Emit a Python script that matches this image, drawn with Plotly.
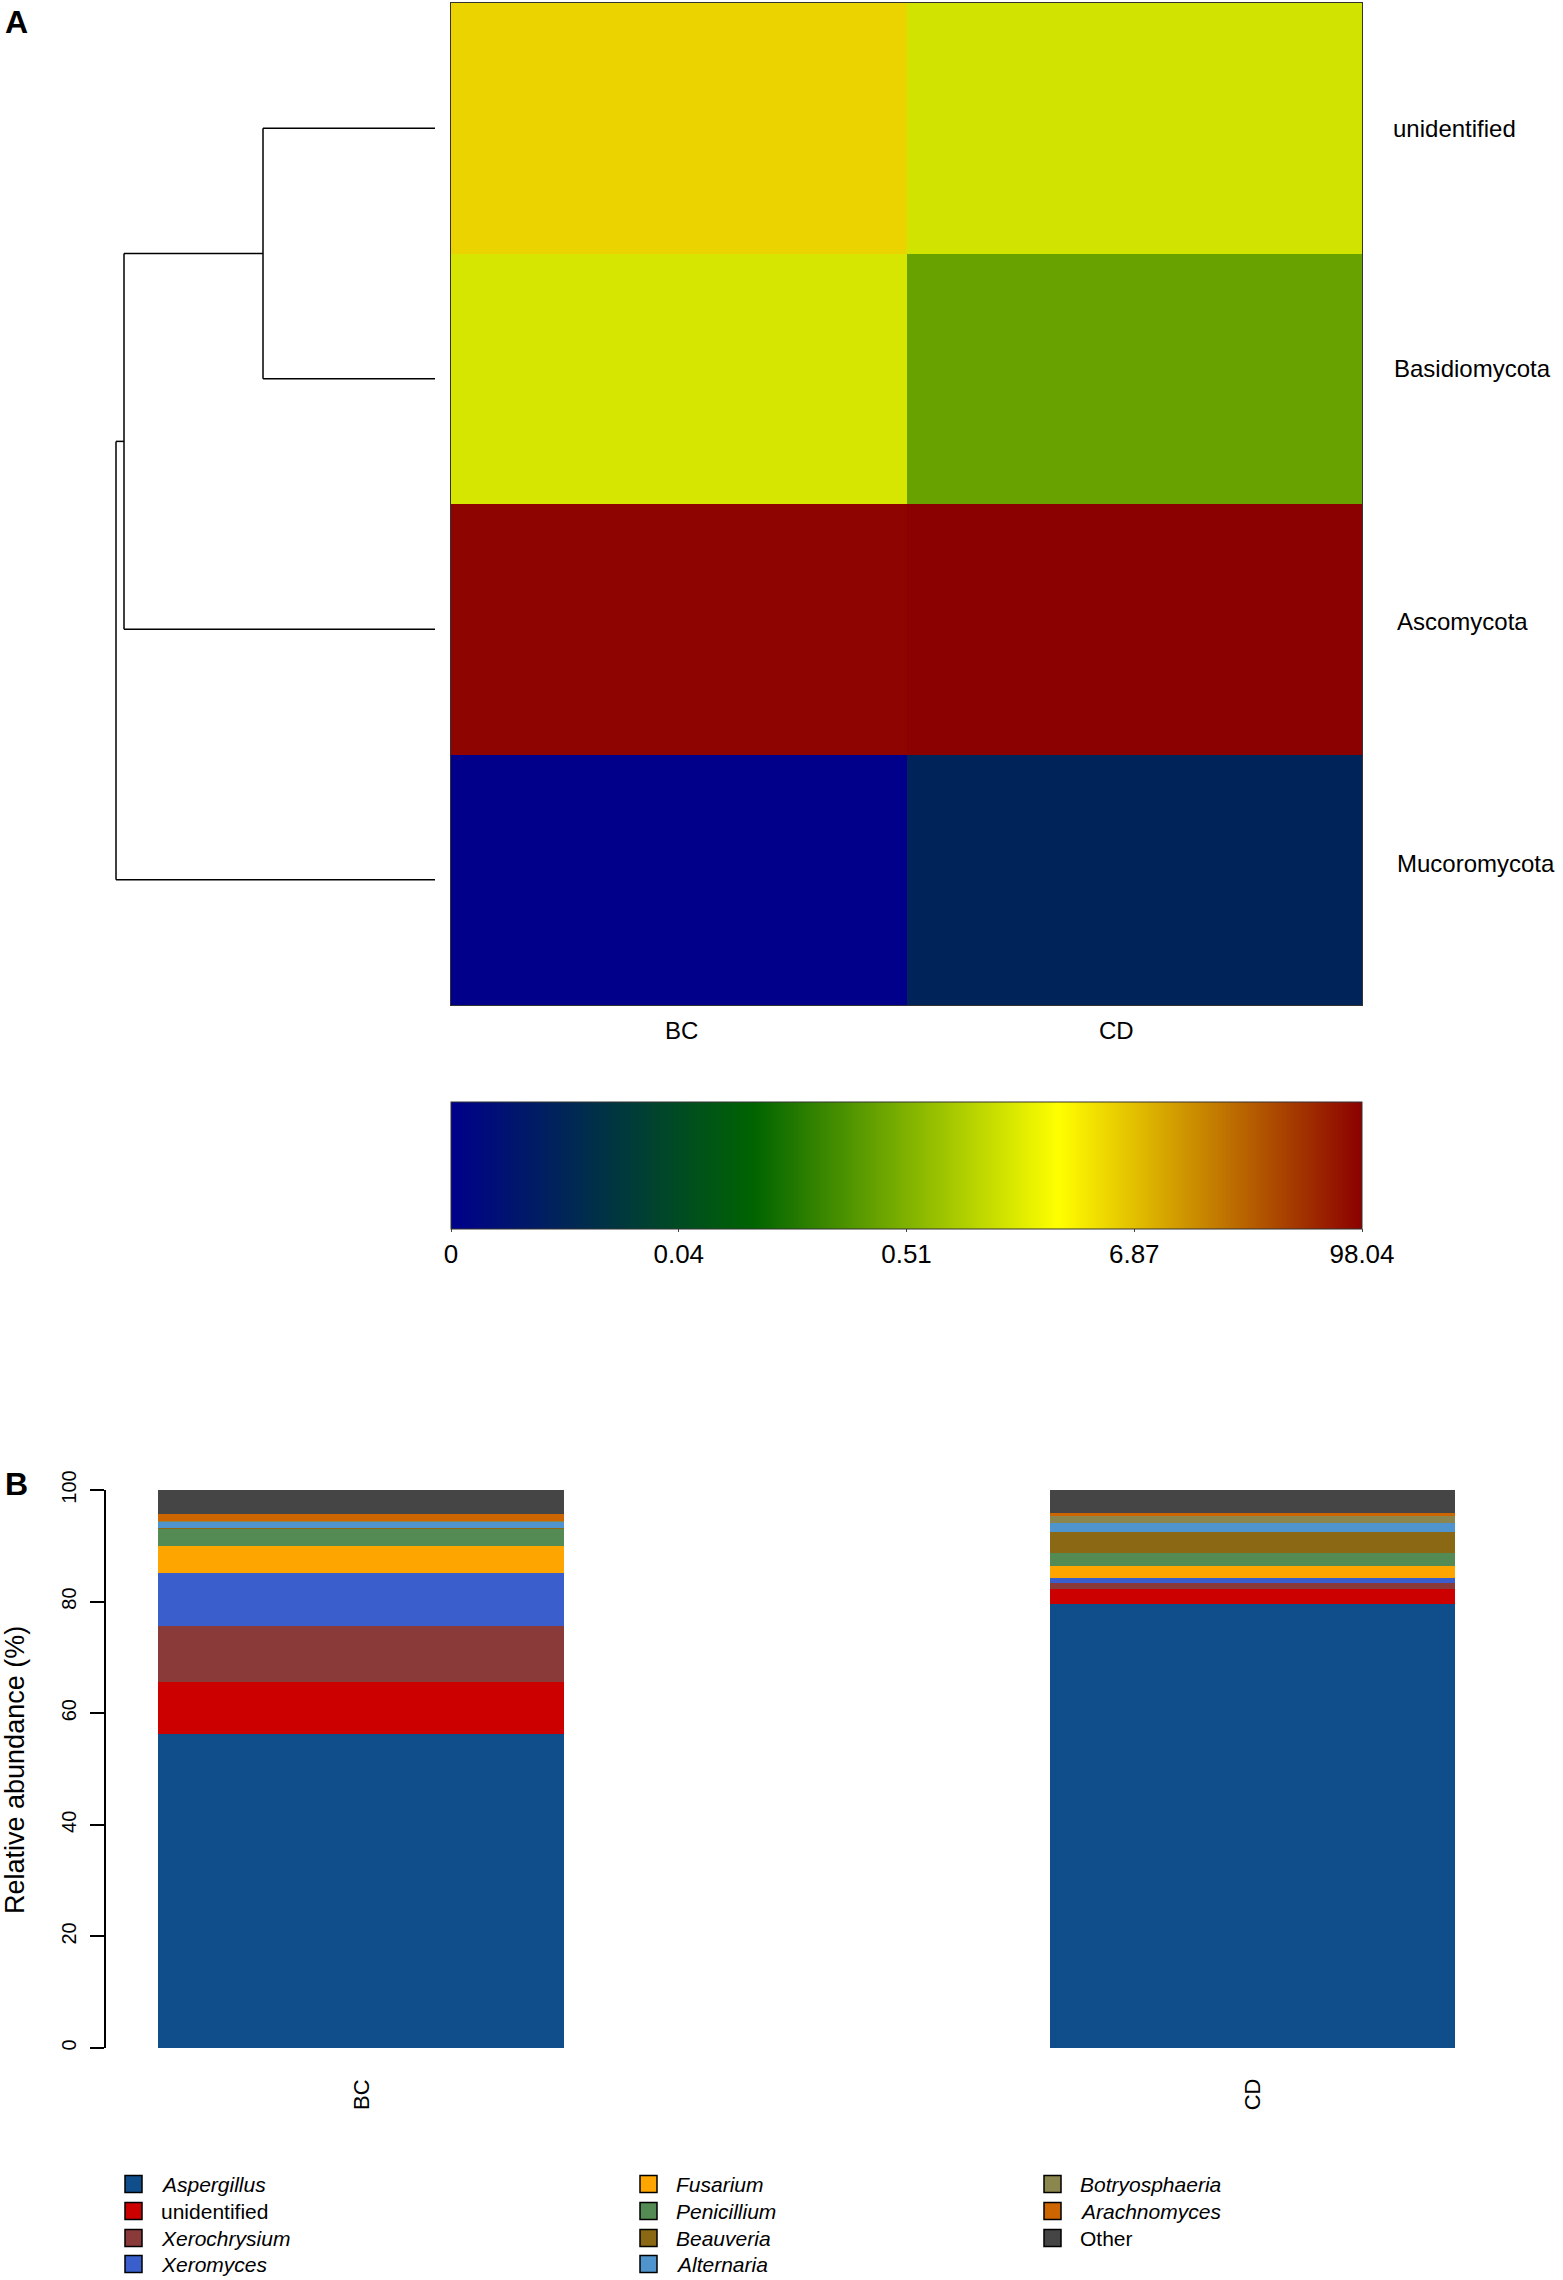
import numpy as np
import plotly.graph_objects as go

W, H = 1563, 2280
FONT = "Liberation Sans, Arial, sans-serif"

# ---------------- Panel A data ----------------
phyla = ["unidentified", "Basidiomycota", "Ascomycota", "Mucoromycota"]
samples = ["BC", "CD"]
heat_BC = [5.24, 1.66, 93.1, 0.0]
heat_CD = [1.55, 0.37, 98.04, 0.0084]
cbar_ticks = [0, 0.04, 0.51, 6.87, 98.04]
cbar_labels = ["0", "0.04", "0.51", "6.87", "98.04"]
# dendrogram merge heights: (unidentified+Basidiomycota), (+Ascomycota), (+Mucoromycota)
merge_heights = [1.72, 3.11, 3.19]

# ---------------- Panel B data ----------------
genera = ["Aspergillus", "unidentified", "Xerochrysium", "Xeromyces", "Fusarium",
          "Penicillium", "Beauveria", "Alternaria", "Botryosphaeria", "Arachnomyces", "Other"]
italic = [True, False, True, True, True, True, True, True, True, True, False]
genus_colors = ["#104E8B", "#CD0000", "#8B3A3A", "#3A5FCD", "#FFA500",
                "#548B54", "#8B6914", "#4F94CD", "#8B864E", "#CD6600", "#454545"]
abund_BC = [56.3, 9.3, 10.0, 9.5, 4.8, 3.2, 0.1, 1.2, 0.1, 1.2, 4.3]
abund_CD = [79.5, 2.7, 1.1, 1.0, 2.0, 2.5, 3.7, 1.5, 1.5, 0.3, 4.2]
y_ticks = [0, 20, 40, 60, 80, 100]
# legend layout: column-major groups
legend_cols = [["Aspergillus", "unidentified", "Xerochrysium", "Xeromyces"],
               ["Fusarium", "Penicillium", "Beauveria", "Alternaria"],
               ["Botryosphaeria", "Arachnomyces", "Other"]]


def fx(px):
    return px / W


def fy(py):
    return 1 - py / H


# colour transform (log-like, anchored on colorbar ticks)
C = 0.00372
def g(v):
    return np.log1p(np.asarray(v, dtype=float) / C)
anchor_pos = [0, 0.25, 0.5, 0.75, 1.0]
def to_pos(v):
    return np.interp(g(v), g(cbar_ticks), anchor_pos)

z = [[float(to_pos(b)), float(to_pos(c))] for b, c in zip(heat_BC, heat_CD)]

colorscale = [[0, "#00008B"], [1/3, "#006400"], [2/3, "#FFFF00"], [1, "#8B0000"]]

fig = go.Figure()

hm_left, hm_right, hm_top, hm_bot = 451, 1362, 3, 1005
fig.add_trace(go.Heatmap(
    z=z, x=[0, 1], y=[0, 1, 2, 3], zmin=0, zmax=1, colorscale=colorscale,
    xaxis="x", yaxis="y", hoverinfo="skip",
    colorbar=dict(
        orientation="h", xref="paper", yref="paper",
        x=fx((hm_left + hm_right) / 2), xanchor="center",
        y=fy(1102), yanchor="top",
        lenmode="pixels", len=hm_right - hm_left,
        thicknessmode="pixels", thickness=127,
        xpad=0, ypad=0,
        outlinecolor="#333333", outlinewidth=1,
        tickvals=[float(to_pos(t)) for t in cbar_ticks], ticktext=cbar_labels,
        ticks="outside", ticklen=3, tickcolor="#444444",
        tickfont=dict(family=FONT, size=26, color="black"),
    ),
))

# dendrogram
h1, h2, h3 = merge_heights
segs = [
    ([0, h1], [0, 0]), ([0, h1], [1, 1]), ([h1, h1], [0, 1]),
    ([h1, h2], [0.5, 0.5]), ([0, h2], [2, 2]), ([h2, h2], [0.5, 2]),
    ([h2, h3], [1.25, 1.25]), ([0, h3], [3, 3]), ([h3, h3], [1.25, 3]),
]
for xs, ys in segs:
    fig.add_trace(go.Scatter(x=xs, y=ys, mode="lines", line=dict(color="black", width=1.5),
                             xaxis="x2", yaxis="y2", showlegend=False, hoverinfo="skip"))

# stacked bars
for name, col, b, c in zip(genera, genus_colors, abund_BC, abund_CD):
    fig.add_trace(go.Bar(x=[0, 1], y=[b, c], width=0.455, name=name,
                         marker=dict(color=col, line=dict(width=0)),
                         xaxis="x3", yaxis="y3", showlegend=False, hoverinfo="skip"))

annotations = []
# row labels
row_yshift = [0, 10, 8, 16]
row_xpx = [1391, 1392, 1395, 1395]
for i, p in enumerate(phyla):
    annotations.append(dict(x=fx(row_xpx[i]), y=i, xref="paper", yref="y", text=p, showarrow=False,
                            xanchor="left", yanchor="middle", yshift=row_yshift[i],
                            font=dict(family=FONT, size=24, color="black")))
# column labels
col_shift = [3, -18]
for j, s in enumerate(samples):
    annotations.append(dict(x=j, y=fy(1030), xref="x", yref="paper", text=s, showarrow=False,
                            xanchor="center", yanchor="middle", xshift=col_shift[j],
                            font=dict(family=FONT, size=24, color="black")))
# panel letters
annotations.append(dict(x=fx(3), y=fy(22), xref="paper", yref="paper", text="<b>A</b>",
                        showarrow=False, xanchor="left", yanchor="middle",
                        font=dict(family=FONT, size=32, color="black")))
annotations.append(dict(x=fx(3), y=fy(1484), xref="paper", yref="paper", text="<b>B</b>",
                        showarrow=False, xanchor="left", yanchor="middle",
                        font=dict(family=FONT, size=32, color="black")))
# bar x labels (rotated)
for j, s in enumerate(samples):
    annotations.append(dict(x=j, y=fy(2094), xref="x3", yref="paper", text=s, showarrow=False,
                            textangle=-90, xanchor="center", yanchor="middle",
                            font=dict(family=FONT, size=22, color="black")))
# y title
annotations.append(dict(x=fx(15), y=fy(1770), xref="paper", yref="paper",
                        text="Relative abundance (%)", showarrow=False, textangle=-90,
                        xanchor="center", yanchor="middle",
                        font=dict(family=FONT, size=27, color="black")))

# legend
shapes = []
col_x = [125, 640, 1044]
row_y = [2184, 2211, 2238, 2264]
for ci, names in enumerate(legend_cols):
    for ri, nm in enumerate(names):
        k = genera.index(nm)
        cy = row_y[ri]
        x0 = col_x[ci]
        shapes.append(dict(type="rect", xref="paper", yref="paper",
                           x0=fx(x0), x1=fx(x0 + 17), y0=fy(cy + 8.5), y1=fy(cy - 8.5),
                           fillcolor=genus_colors[k], line=dict(color="black", width=1.5)))
        txt = f"<i>{nm}</i>" if italic[k] else nm
        annotations.append(dict(x=fx(x0 + 34), y=fy(cy), xref="paper", yref="paper", text=txt,
                                showarrow=False, xanchor="left", yanchor="middle",
                                font=dict(family=FONT, size=21, color="black")))

fig.update_layout(
    width=W, height=H, margin=dict(l=0, r=0, t=0, b=0, pad=0, autoexpand=False),
    paper_bgcolor="white", plot_bgcolor="white",
    barmode="stack", showlegend=False,
    xaxis=dict(domain=[fx(hm_left), fx(hm_right)], range=[-0.5, 1.5], showticklabels=False,
               showgrid=False, zeroline=False, showline=True, mirror=True,
               linecolor="#333333", linewidth=1, ticks="", automargin=False),
    yaxis=dict(domain=[fy(hm_bot), fy(hm_top)], range=[3.5, -0.5], showticklabels=False,
               showgrid=False, zeroline=False, showline=True, mirror=True,
               linecolor="#333333", linewidth=1, ticks="", automargin=False),
    xaxis2=dict(domain=[fx(100), fx(440)], range=[3.35, -0.05], visible=False, automargin=False),
    yaxis2=dict(domain=[fy(hm_bot), fy(hm_top)], range=[3.5, -0.5], visible=False, anchor="x2",
                automargin=False),
    xaxis3=dict(domain=[fx(106), fx(1510)], range=[-0.2859, 1.289], showticklabels=False,
                showgrid=False, zeroline=False, showline=False, ticks="", anchor="y3",
                automargin=False),
    yaxis3=dict(domain=[fy(2048), fy(1490)], range=[0, 100], anchor="x3",
                tickvals=y_ticks, ticktext=[str(t) for t in y_ticks], tickangle=-90,
                ticks="outside", ticklen=14, tickwidth=1.5, tickcolor="black",
                showline=True, linecolor="black", linewidth=1.5,
                showgrid=False, zeroline=False, ticklabelstandoff=6, automargin=False,
                tickfont=dict(family=FONT, size=20, color="black")),
    annotations=annotations, shapes=shapes,
)

fig.write_html("out.html", config={"displayModeBar": False},
               post_script="document.body.style.margin='0px';")
